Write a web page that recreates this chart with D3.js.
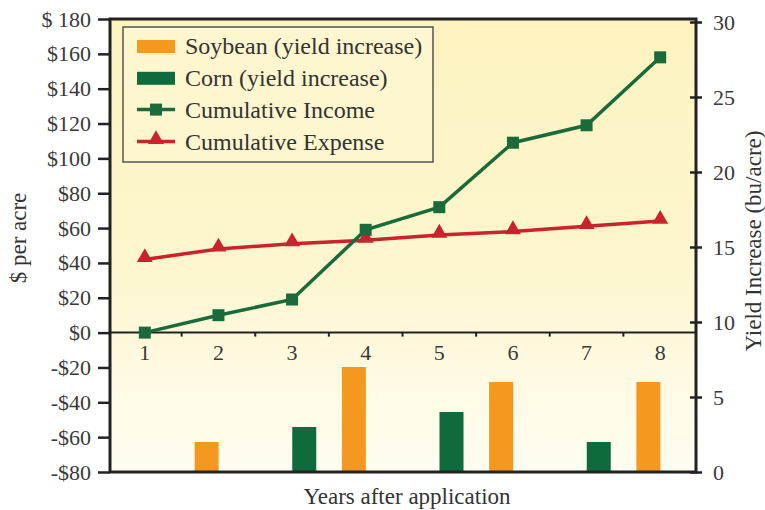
<!DOCTYPE html>
<html lang="en">
<head>
<meta charset="UTF-8">
<title>Yield increase and cumulative income</title>
<script src="https://d3js.org/d3.v7.min.js"></script>
<style>
    body { margin: 0; background: #fff; }
    text {
        font-family: "Liberation Serif", "DejaVu Serif", serif;
        fill: #333;
    }
    .axis path { display: none; }
    .axis line { stroke: #222; stroke-width: 2.5px; }
    .axis text { font-size: 22px; fill: #3a3a3a; }
</style>
</head>
<body>
<script>
const years = [1, 2, 3, 4, 5, 6, 7, 8];
const soybean = [null, 2, null, 7, null, 6, null, 6];   // bu/acre
const corn = [null, null, 3, null, 4, null, 2, null];   // bu/acre
const income = [0, 10, 19, 59, 72, 109, 119, 158];      // $ per acre
const expense = [42, 48, 51, 53, 56, 58, 61, 64];       // $ per acre
const dollarTicks = [-80, -60, -40, -20, 0, 20, 40, 60, 80, 100, 120, 140, 160, 180];
const yieldTicks = [0, 5, 10, 15, 20, 25, 30];
const legendItems = ["Soybean (yield increase)", "Corn (yield increase)", "Cumulative Income", "Cumulative Expense"];

const width = 765, height = 510;
const plotL = 110, plotR = 696, plotT = 19, plotB = 472;

const colors = {
    soybean: "#f4981f",
    corn: "#0f6b3b",
    income: "#1b6a3b",
    expense: "#c9232d"
};

const svg = d3.select("body").append("svg")
    .attr("width", width)
    .attr("height", height);

const defs = svg.append("defs");
const grad = defs.append("linearGradient")
    .attr("id", "bg")
    .attr("x1", 0).attr("y1", 0).attr("x2", 0).attr("y2", 1);
grad.append("stop").attr("offset", "0%").attr("stop-color", "#fcf3bf");
grad.append("stop").attr("offset", "55%").attr("stop-color", "#fdf6cf");
grad.append("stop").attr("offset", "100%").attr("stop-color", "#fffdf2");

const x = d3.scaleBand().domain(years).range([108, 697]).padding(0);
const sub = d3.scaleBand().domain(["soybean", "corn"]).range([13, 61]).padding(0);
const yL = d3.scaleLinear().domain([-80, 180]).range([plotB, plotT]);
const yR = d3.scaleLinear().domain([0, 30]).range([plotB, 22]);

// plot background
svg.append("rect")
    .attr("x", plotL).attr("y", plotT)
    .attr("width", plotR - plotL).attr("height", plotB - plotT)
    .attr("fill", "url(#bg)");

// bars
const bars = [];
years.forEach((yr, i) => {
    if (soybean[i] != null) bars.push({year: yr, key: "soybean", value: soybean[i]});
    if (corn[i] != null) bars.push({year: yr, key: "corn", value: corn[i]});
});

svg.append("g")
    .selectAll("rect")
    .data(bars)
    .join("rect")
    .attr("x", d => x(d.year) + sub(d.key))
    .attr("width", sub.bandwidth())
    .attr("y", d => yR(d.value))
    .attr("height", d => yR(0) - yR(d.value))
    .attr("fill", d => colors[d.key]);

// zero line with ticks between years
svg.append("line")
    .attr("x1", plotL).attr("x2", plotR)
    .attr("y1", yL(0)).attr("y2", yL(0))
    .attr("stroke", "#222").attr("stroke-width", 2);

svg.append("g")
    .selectAll("line")
    .data(years.slice(1))
    .join("line")
    .attr("x1", d => x(d)).attr("x2", d => x(d))
    .attr("y1", yL(0)).attr("y2", yL(0) + 4)
    .attr("stroke", "#222").attr("stroke-width", 2);

svg.append("g")
    .attr("class", "axis")
    .attr("transform", `translate(0,${yL(0)})`)
    .call(d3.axisBottom(x).tickSize(0).tickPadding(12));

// frame
svg.append("rect")
    .attr("x", plotL).attr("y", plotT)
    .attr("width", plotR - plotL).attr("height", plotB - plotT)
    .attr("fill", "none")
    .attr("stroke", "#222").attr("stroke-width", 3);

// left axis
const fmt = v => v < 0 ? "-$" + (-v) : (v === 180 ? "$ 180" : "$" + v);
svg.append("g")
    .attr("class", "axis")
    .attr("transform", `translate(${plotL},0)`)
    .call(d3.axisLeft(yL).tickValues(dollarTicks).tickFormat(fmt).tickSize(12).tickPadding(7));

// right axis, ticks crossing the line
const rAxis = svg.append("g")
    .attr("class", "axis")
    .attr("transform", `translate(${plotR},0)`)
    .call(d3.axisRight(yR).tickValues(yieldTicks).tickSize(6).tickPadding(11));
rAxis.selectAll(".tick line").attr("x1", -6);

// lines
const cx = yr => x(yr) + x.bandwidth() / 2;
const line = d3.line().x(d => cx(d.year)).y(d => yL(d.value));

const incomeData = years.map((yr, i) => ({year: yr, value: income[i]}));
const expenseData = years.map((yr, i) => ({year: yr, value: expense[i]}));

svg.append("path")
    .datum(expenseData)
    .attr("d", line)
    .attr("fill", "none")
    .attr("stroke", colors.expense)
    .attr("stroke-width", 3.5);

svg.append("g")
    .selectAll("path")
    .data(expenseData)
    .join("path")
    .attr("d", d3.symbol(d3.symbolTriangle, 110))
    .attr("transform", d => `translate(${cx(d.year)},${yL(d.value) - 2})`)
    .attr("fill", colors.expense);

svg.append("path")
    .datum(incomeData)
    .attr("d", line)
    .attr("fill", "none")
    .attr("stroke", colors.income)
    .attr("stroke-width", 3.5);

svg.append("g")
    .selectAll("rect")
    .data(incomeData)
    .join("rect")
    .attr("x", d => cx(d.year) - 6)
    .attr("y", d => yL(d.value) - 6)
    .attr("width", 12).attr("height", 12)
    .attr("fill", colors.income);

// legend
const legend = svg.append("g");
legend.append("rect")
    .attr("x", 123).attr("y", 27)
    .attr("width", 310).attr("height", 135)
    .attr("fill", "#fdf6ce")
    .attr("stroke", "#555").attr("stroke-width", 1.5);

const rowY = i => 46 + i * 31.8;
const lg = legend.selectAll("g")
    .data(legendItems)
    .join("g")
    .attr("transform", (d, i) => `translate(0,${rowY(i)})`);

lg.filter((d, i) => i < 2)
    .append("rect")
    .attr("x", 137).attr("y", -6)
    .attr("width", 38).attr("height", 13)
    .attr("fill", (d, i) => i === 0 ? colors.soybean : colors.corn);

lg.filter((d, i) => i >= 2)
    .append("line")
    .attr("x1", 137).attr("x2", 175)
    .attr("stroke", (d, i) => i === 0 ? colors.income : colors.expense)
    .attr("stroke-width", 3.5);

lg.filter((d, i) => i === 2)
    .append("rect")
    .attr("x", 150).attr("y", -6)
    .attr("width", 12).attr("height", 12)
    .attr("fill", colors.income);

lg.filter((d, i) => i === 3)
    .append("path")
    .attr("d", d3.symbol(d3.symbolTriangle, 110))
    .attr("transform", "translate(156,-2)")
    .attr("fill", colors.expense);

lg.append("text")
    .attr("x", 185)
    .attr("dy", "0.35em")
    .style("font-size", "24px")
    .text(d => d);

// axis titles
svg.append("text")
    .attr("transform", `translate(26,238) rotate(-90)`)
    .attr("text-anchor", "middle")
    .style("font-size", "23px")
    .text("$ per acre");

svg.append("text")
    .attr("transform", `translate(761,241) rotate(-90)`)
    .attr("text-anchor", "middle")
    .style("font-size", "23px")
    .text("Yield Increase (bu/acre)");

svg.append("text")
    .attr("x", 407).attr("y", 504)
    .attr("text-anchor", "middle")
    .style("font-size", "23px")
    .text("Years after application");
</script>
</body>
</html>
